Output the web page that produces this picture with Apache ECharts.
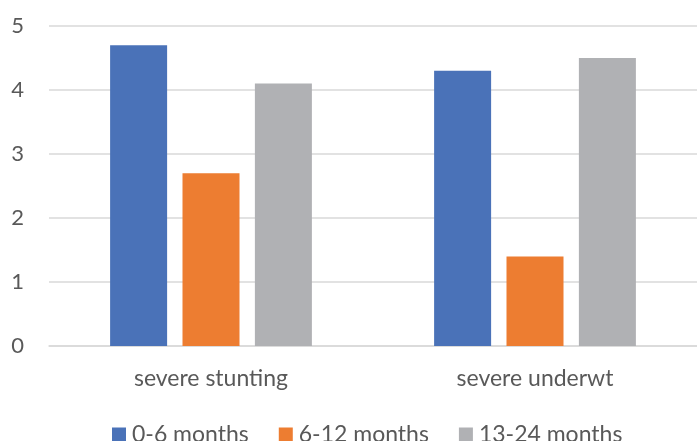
<!DOCTYPE html>
<html><head><meta charset="utf-8">
<script src="https://cdn.jsdelivr.net/npm/echarts@6/dist/echarts.min.js"></script>
<style>html,body{margin:0;padding:0;background:#fff}#c{width:697px;height:441px}</style>
</head><body><div id="c"></div>
<script>
var categories = ["severe stunting", "severe underwt"];
var seriesNames = ["0-6 months", "6-12 months", "13-24 months"];
var months0to6 = [4.7, 4.3];
var months6to12 = [2.7, 1.4];
var months13to24 = [4.1, 4.5];
var yTicks = [0, 1, 2, 3, 4, 5];
var colors = ["#4A72B8", "#ED7D31", "#B0B1B4"];
var FONT = "Lato";
var chart = echarts.init(document.getElementById('c'), null, {renderer: 'canvas'});
var values = [months0to6, months6to12, months13to24];
chart.setOption({
  animation: false,
  textStyle: {fontFamily: FONT},
  grid: {left: 49, top: 26, width: 655, height: 320, containLabel: false},
  legend: {
    top: 423, left: 112, padding: 0,
    itemWidth: 14, itemHeight: 14, itemGap: 30, icon: 'rect',
    textStyle: {fontFamily: FONT, fontSize: 23, color: '#595959', padding: [0,0,0,1]},
    data: seriesNames
  },
  xAxis: {
    type: 'category', data: categories,
    axisLine: {show: true, lineStyle: {color: '#D9D9D9', width: 1.5}},
    axisTick: {show: false},
    axisLabel: {fontFamily: FONT, fontSize: 23, color: '#595959', margin: 21}
  },
  yAxis: {
    type: 'value', min: yTicks[0], max: yTicks[yTicks.length-1], interval: 1,
    axisLine: {show: false}, axisTick: {show: false},
    splitLine: {lineStyle: {color: '#D9D9D9', width: 1.5}},
    axisLabel: {fontFamily: FONT, fontSize: 22, color: '#595959', margin: 25}
  },
  series: seriesNames.map(function(n, i){
    return {name: n, type: 'bar', data: values[i], barWidth: 57, barGap: '27%',
      itemStyle: {color: colors[i]}};
  })
});
</script></body></html>
